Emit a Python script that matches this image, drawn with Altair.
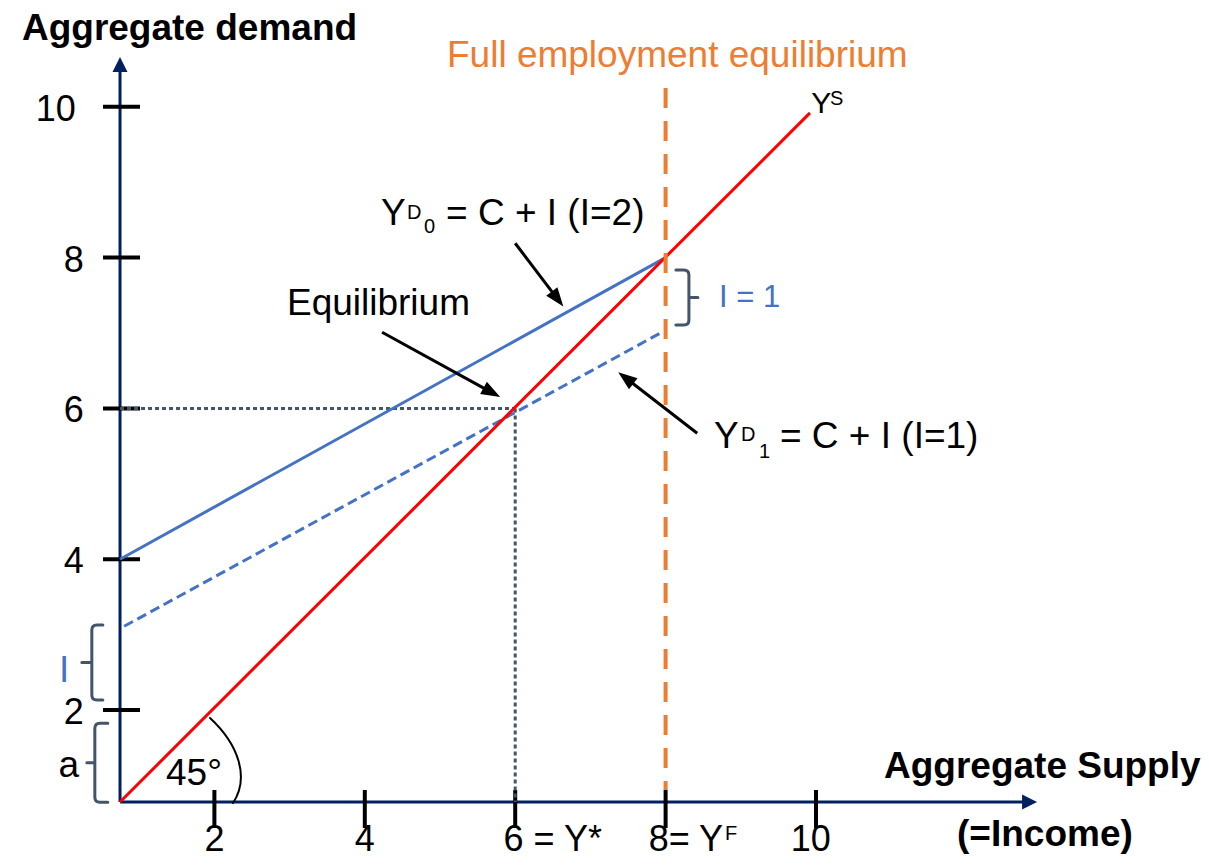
import math
import altair as alt
import pandas as pd

# ---------------- values (data units) ----------------
x_ticks = [2, 4, 6, 8, 10]
x_tick_labels = ["2", "4", "6 = Y*", "8= Y", "10"]
x_label_pos = [2.0, 4.0, 6.5, 8.27, 9.93]
x_label_base = 0.135

y_ticks = [2, 4, 6, 8, 10]
y_tick_labels = ["2", "4", "6", "8", "10"]
y_label_pos = [0.13, 0.13, 0.13, 0.13, -0.11]

origin_x = 0.745
origin_y = 0.78
y_axis_tip = 10.66
x_axis_tip = 12.94

ys_x = [0.745, 9.92]          # Y^S (45 degree line)
ys_y = [0.78, 9.92]
yd0_x = [0.745, 8.0]          # Y^D_0 (I = 2)
yd0_y = [4.0, 8.0]
yd1_x = [0.80, 7.95]          # Y^D_1 (I = 1)
yd1_y = [3.11, 7.01]
eq_x = 6.0
eq_y = 6.0
yf_x = 8.0
yf_top = 10.25
yf_bottom = 0.94

arrow_tail_x = [6.00, 4.23, 8.42]
arrow_tail_y = [8.19, 7.01, 5.67]
arrow_tip_x = [6.64, 5.80, 7.37]
arrow_tip_y = [7.35, 6.15, 6.48]

brace_x = [8.31, 0.37, 0.41]
brace_y = [7.47, 2.63, 1.30]

label_text = ["Full employment equilibrium", "Y", "S",
              "Y", "D", "0", "= C + I (I=2)",
              "Equilibrium",
              "Y", "D", "1", "= C + I (I=1)",
              "I = 1", "I", "a", "45°", "F"]
label_x = [5.093, 9.936, 10.186,
           4.215, 4.561, 4.787, 5.080,
           2.965,
           8.644, 9.003, 9.242, 9.521,
           8.710, -0.066, -0.073, 1.356, 8.790]
label_y = [10.528, 9.918, 10.024,
           8.432, 8.512, 8.326, 8.432,
           7.236,
           5.475, 5.570, 5.342, 5.475,
           7.345, 2.371, 1.111, 1.006, 0.280]
label_size = [37, 30, 20,
              37, 20, 20, 37,
              37,
              37, 20, 20, 37,
              31, 37, 37, 37, 20]
label_color = ["#ED7D31", "black", "black",
               "black", "black", "black", "black",
               "black",
               "black", "black", "black", "black",
               "#4472C4", "#4472C4", "black", "black", "black"]

bold_text = ["Aggregate demand", "Aggregate Supply", "(=Income)"]
bold_x = [-0.559, 10.904, 11.875]
bold_y = [10.886, 1.098, 0.200]

# ---------------- styling / layout ----------------
FONT = "Liberation Sans"
NAVY = "#002060"
BLUE = "#4472C4"
RED = "#FF0000"
ORANGE = "#ED7D31"
SLATE = "#44546A"

W, H = 1193, 851
X_DOMAIN = [-0.7447, 15.1197]
Y_DOMAIN = [0.0239, 11.3103]
PX_X = W / (X_DOMAIN[1] - X_DOMAIN[0])
PX_Y = H / (Y_DOMAIN[1] - Y_DOMAIN[0])

xs = alt.Scale(domain=X_DOMAIN, nice=False, zero=False)
yscale = alt.Scale(domain=Y_DOMAIN, nice=False, zero=False)


def X(f="x"):
    return alt.X(f"{f}:Q", scale=xs, axis=None)


def Y(f="y"):
    return alt.Y(f"{f}:Q", scale=yscale, axis=None)


def line(xv, yv, color, width, dash=None):
    df = pd.DataFrame({"x": xv, "y": yv, "o": list(range(len(xv)))})
    kw = dict(color=color, strokeWidth=width, strokeCap="butt")
    if dash:
        kw["strokeDash"] = dash
    return alt.Chart(df).mark_line(**kw).encode(x=X(), y=Y(), order="o:Q")


def symbol(xv, yv, path, color, filled, width=3, angle=None):
    df = pd.DataFrame({"x": xv, "y": yv})
    kw = dict(shape=path, size=4, opacity=1, filled=filled,
              strokeWidth=width, strokeJoin="round", strokeCap="round")
    if filled:
        kw["fill"] = color
        kw["strokeWidth"] = 0
    else:
        kw["stroke"] = color
    enc = dict(x=X(), y=Y())
    if angle is not None:
        df["a"] = angle
        enc["angle"] = alt.Angle("a:Q", scale=None)
    return alt.Chart(df).mark_point(**kw).encode(**enc)


layers = []

# axes
layers.append(alt.Chart(pd.DataFrame({"x": [origin_x], "y": [origin_y], "y2": [y_axis_tip - 0.15]}))
              .mark_rule(color=NAVY, strokeWidth=3).encode(x=X(), y=Y(), y2="y2:Q"))
layers.append(alt.Chart(pd.DataFrame({"x": [origin_x], "x2": [x_axis_tip - 0.15], "y": [origin_y]}))
              .mark_rule(color=NAVY, strokeWidth=3).encode(x=X(), x2="x2:Q", y=Y()))
layers.append(symbol([origin_x], [y_axis_tip], "M0,0L7.5,15L-7.5,15Z", NAVY, True))
layers.append(symbol([x_axis_tip], [origin_y], "M0,0L-15,-7.5L-15,7.5Z", NAVY, True))

# tick marks
layers.append(alt.Chart(pd.DataFrame({"x": [origin_x] * len(y_ticks), "y": y_ticks}))
              .mark_tick(orient="horizontal", size=37, thickness=4, xOffset=1.5,
                         color="black", opacity=1)
              .encode(x=X(), y=Y()))
layers.append(alt.Chart(pd.DataFrame({"x": x_ticks, "y": [origin_y] * len(x_ticks)}))
              .mark_tick(orient="vertical", size=38, thickness=4, yOffset=7,
                         color="black", opacity=1)
              .encode(x=X(), y=Y()))

# tick labels
layers.append(alt.Chart(pd.DataFrame({"x": x_label_pos, "y": [x_label_base] * 5, "t": x_tick_labels}))
              .mark_text(align="center", baseline="alphabetic", font=FONT, fontSize=36, color="black")
              .encode(x=X(), y=Y(), text="t:N"))
layers.append(alt.Chart(pd.DataFrame({"x": y_label_pos, "y": y_ticks, "t": y_tick_labels}))
              .mark_text(align="center", baseline="alphabetic", font=FONT, fontSize=36, color="black", dy=14)
              .encode(x=X(), y=Y(), text="t:N"))

# equilibrium dotted guides
layers.append(line([origin_x, eq_x], [eq_y, eq_y], SLATE, 3, [4, 3]))
layers.append(alt.Chart(pd.DataFrame({"x": [eq_x], "y": [eq_y], "y2": [origin_y]}))
              .mark_rule(color=SLATE, strokeWidth=3, strokeDash=[4, 3]).encode(x=X(), y=Y(), y2="y2:Q"))

# demand lines
layers.append(line(yd0_x, yd0_y, BLUE, 3))
layers.append(line(yd1_x, yd1_y, BLUE, 3, [10, 5]))
# supply 45 degree line
layers.append(line(ys_x, ys_y, RED, 3))

# full employment line
layers.append(alt.Chart(pd.DataFrame({"x": [yf_x], "y": [yf_top], "y2": [yf_bottom]}))
              .mark_rule(color=ORANGE, strokeWidth=4, strokeDash=[20, 13]).encode(x=X(), y=Y(), y2="y2:Q"))

# braces and 45 degree arc
layers.append(symbol([brace_x[0]], [brace_y[0]],
                     "M-13,-27.5L-5,-27.5Q0,-27.5 0,-22.5L0,22.5Q0,27.5 -5,27.5L-13,27.5M0,0L9,0",
                     SLATE, False, 3))
layers.append(symbol([brace_x[1]], [brace_y[1]],
                     "M11,-37.5L5,-37.5Q0,-37.5 0,-32.5L0,32.5Q0,37.5 5,37.5L11,37.5M0,0L-10,0",
                     SLATE, False, 3))
layers.append(symbol([brace_x[2]], [brace_y[2]],
                     "M13,-39.5L5,-39.5Q0,-39.5 0,-34.5L0,34.5Q0,39.5 5,39.5L13,39.5M0,0L-8,0",
                     SLATE, False, 3))
layers.append(symbol([origin_x], [origin_y], "M90,-84C118,-58 130,-25 113,1", "black", False, 2))

# annotation arrows
angles, sx2, sy2 = [], [], []
for tx, ty, hx, hy in zip(arrow_tail_x, arrow_tail_y, arrow_tip_x, arrow_tip_y):
    dxp = (hx - tx) * PX_X
    dyp = -(hy - ty) * PX_Y
    th = math.atan2(dxp, -dyp)
    angles.append(math.degrees(th) % 360)
    sx2.append(hx - 12 * math.sin(th) / PX_X)
    sy2.append(hy - 12 * math.cos(th) / PX_Y)
layers.append(alt.Chart(pd.DataFrame({"x": arrow_tail_x, "y": arrow_tail_y, "x2": sx2, "y2": sy2}))
              .mark_rule(color="black", strokeWidth=3).encode(x=X(), y=Y(), x2="x2:Q", y2="y2:Q"))
layers.append(symbol(arrow_tip_x, arrow_tip_y, "M0,0L7,19L-7,19Z", "black", True, angle=angles))

# annotation text
layers.append(alt.Chart(pd.DataFrame({"x": label_x, "y": label_y, "t": label_text,
                                      "s": label_size, "c": label_color}))
              .mark_text(align="left", baseline="alphabetic", font=FONT)
              .encode(x=X(), y=Y(), text="t:N",
                      size=alt.Size("s:Q", scale=None),
                      color=alt.Color("c:N", scale=None)))
layers.append(alt.Chart(pd.DataFrame({"x": bold_x, "y": bold_y, "t": bold_text}))
              .mark_text(align="left", baseline="alphabetic", font=FONT, fontSize=37,
                         fontWeight="bold", color="black")
              .encode(x=X(), y=Y(), text="t:N"))

chart = (alt.layer(*layers)
         .properties(width=W, height=H, padding=0, background="white",
                     autosize=alt.AutoSizeParams(type="none"))
         .configure_view(stroke=None, strokeWidth=0))

chart.save("out.html", embed_options={"renderer": "svg", "actions": False})
